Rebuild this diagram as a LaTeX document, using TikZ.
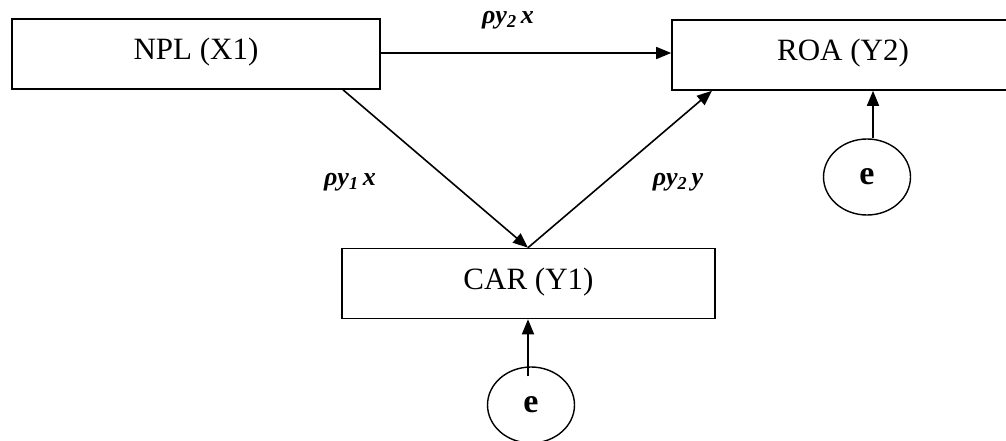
\documentclass[tikz,border=0pt]{standalone}
\usepackage{fontspec}
\setmainfont{Liberation Serif}
\usetikzlibrary{arrows.meta,shapes.geometric}
\begin{document}
\begin{tikzpicture}[x=1pt,y=-1pt,
  box/.style={draw, line width=1.6pt, minimum height=70pt, inner sep=0pt,
    text height=21pt, text depth=9pt, font=\fontsize{31}{36}\selectfont},
  err/.style={draw, line width=1.4pt, ellipse, minimum width=87pt, minimum height=76pt, inner sep=0pt,
    font=\fontsize{34}{40}\selectfont\bfseries},
  coef/.style={font=\fontsize{26}{30}\selectfont\bfseries\itshape, inner sep=0pt},
  arr/.style={line width=1.6pt, -{Triangle[length=15pt,width=12pt]}}]
\useasboundingbox (0,0) rectangle (1006,441);
\fill[white] (0,0) rectangle (1006,441);
\node[box, minimum width=368pt] (npl) at (196,54) {NPL (X1)};
\node[box, minimum width=342pt] (roa) at (843,55) {ROA (Y2)};
\node[box, minimum width=373pt] (car) at (528.5,283.5) {CAR (Y1)};
\node[err] (e2) at (867,177) {e};
\node[err] (e1) at (531,405) {e};
\draw[arr] (npl.east |- 0,53) -- (roa.west |- 0,53);
\draw[arr] (npl.south -| 343,0) -- (car.north -| 528,0);
\draw[arr] (car.north -| 528,0) -- (roa.south -| 712,0);
\draw[arr] ([xshift=6pt]e2.north) -- ([xshift=6pt]e2.north |- roa.south);
\draw[arr] ([xshift=-3pt,yshift=-10pt]e1.north) -- ([xshift=-3pt]e1.north |- car.south);
\node[coef] (c1) at (508,20) {ρy\textsubscript{2}\,x};
\node[coef] (c2) at (350,182) {ρy\textsubscript{1}\,x};
\node[coef] (c3) at (678,182) {ρy\textsubscript{2}\,y};
\end{tikzpicture}
\end{document}
